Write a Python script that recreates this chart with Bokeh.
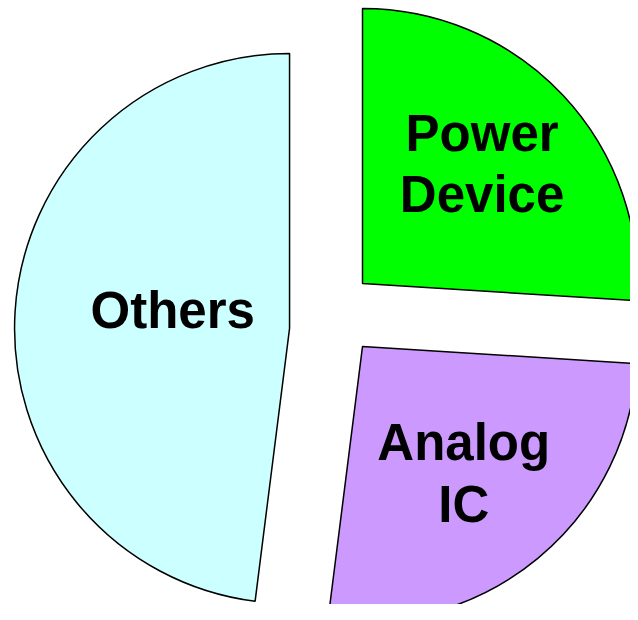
import numpy as np
from bokeh.plotting import figure
from bokeh.models import Range1d, ColumnDataSource
from bokeh.embed import file_html
from bokeh.resources import INLINE
from bokeh.core.properties import value

# ---- data ----
categories = ["Power Device", "Analog IC", "Others"]
labels = ["Power\nDevice", "Analog\nIC", "Others"]
shares = [26, 26, 48]
colors = ["#00FF00", "#CC99FF", "#CCFFFF"]

# ---- layout / style ----
W, H = 630, 604
CX, CY = 332.7, 620 - 310.5          # pie centre (px-like data units)
R = 275
explode_dist = [40.2, 46.0, 47.0]
explode_turn = [0.0, 0.0, 25.4]
label_frac = [0.615, 0.59, 0.43]
label_turn = [1.8, -1.0, -5.1]

sh = np.array(shares, dtype=float)
frac = sh / sh.sum()
cum = np.cumsum(frac)
start_deg = 90 - cum * 360
end_deg = 90 - (cum - frac) * 360
mid_deg = (start_deg + end_deg) / 2

ex_ang = np.radians(mid_deg + np.array(explode_turn))
vx = CX + np.array(explode_dist) * np.cos(ex_ang)
vy = CY + np.array(explode_dist) * np.sin(ex_ang)

la = np.radians(mid_deg + np.array(label_turn))
lx = vx + np.array(label_frac) * R * np.cos(la)
ly = vy + np.array(label_frac) * R * np.sin(la)

src = ColumnDataSource(dict(
    cat=categories, label=labels, color=colors,
    vx=vx, vy=vy, start=np.radians(start_deg), end=np.radians(end_deg),
    lx=lx, ly=ly,
))

p = figure(width=W, height=H, x_range=Range1d(0, W), y_range=Range1d(620 - H, 620),
           output_backend="svg", toolbar_location=None, min_border=0,
           x_axis_location=None, y_axis_location=None)
p.grid.visible = False
p.outline_line_color = None
p.background_fill_color = "white"

p.wedge(x="vx", y="vy", radius=R, start_angle="start", end_angle="end",
        fill_color="color", line_color="black", line_width=1.5, source=src)

p.text(x="lx", y="ly", text="label", source=src,
       text_font=value("Liberation Sans"), text_font_style="bold",
       text_font_size="51px", text_align="center", text_baseline="middle",
       text_line_height=1.08, text_color="black")

open("out.html", "w").write(file_html(p, INLINE))
